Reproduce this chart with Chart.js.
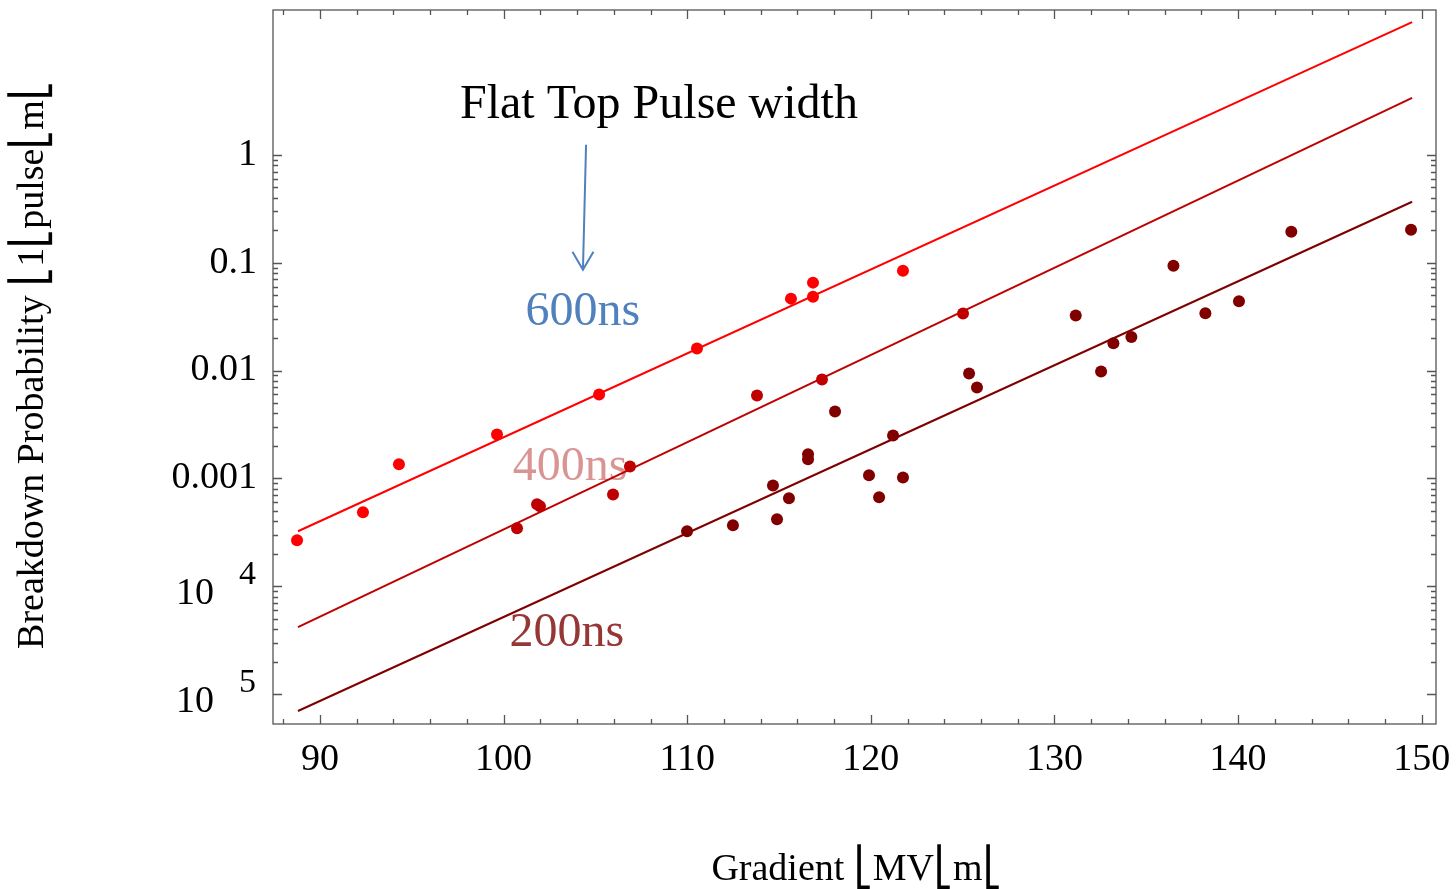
<!DOCTYPE html>
<html>
<head>
<meta charset="utf-8">
<script src="https://cdn.jsdelivr.net/npm/chart.js@4.4.1/dist/chart.umd.min.js"></script>
<style>
html, body { margin: 0; padding: 0; background: #fff; }
#wrap { width: 1456px; height: 889px; }
</style>
</head>
<body>
<div id="wrap"><canvas id="myChart"></canvas></div>
<script>
// measured points, gradient (MV/m) vs breakdown probability
const x600 = [88.75, 92.34, 94.30, 99.64, 105.20, 110.53, 115.65, 116.85, 116.85, 121.75];
const y600 = [2.67e-4, 4.84e-4, 1.35e-3, 2.55e-3, 6.0e-3, 0.016, 0.0464, 0.0653, 0.0484, 0.0843];

const x400 = [100.73, 101.82, 101.98, 105.96, 106.88, 113.80, 117.34, 125.02];
const y400 = [3.44e-4, 5.74e-4, 5.5e-4, 7.1e-4, 1.29e-3, 5.87e-3, 8.25e-3, 0.0337];

const x200 = [109.99, 112.49, 114.67, 114.89, 115.54, 116.58, 116.58, 118.05, 119.90, 120.45,
              121.21, 121.75, 125.35, 125.78, 131.16, 132.54, 133.21, 134.19, 136.48, 138.22,
              140.05, 142.90, 149.42];
const y200 = [3.23e-4, 3.67e-4, 8.6e-4, 4.17e-4, 6.53e-4, 1.67e-3, 1.5e-3, 4.17e-3, 1.07e-3, 6.67e-4,
              2.5e-3, 1.02e-3, 9.38e-3, 6.96e-3, 0.0323, 9.8e-3, 0.0179, 0.0204, 0.0938, 0.034,
              0.0438, 0.1937, 0.202];

// fitted lines, end points
const fitX = [88.8, 149.48];
const fit600 = [3.23e-4, 17.0];
const fit400 = [4.17e-5, 3.37];
const fit200 = [6.96e-6, 0.367];

const xTicks = [90, 100, 110, 120, 130, 140, 150];
const yTicks = [1, 0.1, 0.01, 0.001, 1e-4, 1e-5];
const yTickText = ['1', '0.1', '0.01', '0.001', '10', '10'];
const yTickSup = ['', '', '', '', '4', '5'];

const xTitle = 'Gradient \u23A3MV\u23A3m\u23A3';
const yTitle = 'Breakdown Probability \u23A31\u23A3pulse\u23A3m\u23A3';

const c600 = '#ff0000';
const c400 = '#bf0000';
const c200 = '#800000';

function pts(xs, ys) {
	return xs.map((v, i) => ({x: v, y: ys[i]}));
}

const serif = "'Liberation Serif', 'Times New Roman', serif";

const frame = {
	id: 'frame',
	beforeDatasetsDraw(chart) {
		const {ctx, chartArea: a, scales: {x, y}} = chart;
		const P = (xv, lg) => [x.getPixelForValue(xv), y.getPixelForValue(Math.pow(10, lg))];
		ctx.save();

		// frame + inward ticks
		ctx.strokeStyle = '#555';
		ctx.lineWidth = 1.3;
		ctx.strokeRect(a.left, a.top, a.right - a.left, a.bottom - a.top);
		ctx.beginPath();
		for (let v = 88; v <= 150; v += 2) {
			const px = Math.round(x.getPixelForValue(v)) + 0.5;
			const len = v % 10 === 0 ? 9 : 5;
			ctx.moveTo(px, a.bottom); ctx.lineTo(px, a.bottom - len);
			ctx.moveTo(px, a.top); ctx.lineTo(px, a.top + len);
		}
		for (let d = -5; d <= 0; d++) {
			const top = d === 0 ? 1 : 9;
			for (let m = 1; m <= top; m++) {
				const py = Math.round(y.getPixelForValue(m * Math.pow(10, d))) + 0.5;
				const len = m === 1 ? 9 : 5;
				ctx.moveTo(a.left, py); ctx.lineTo(a.left + len, py);
				ctx.moveTo(a.right, py); ctx.lineTo(a.right - len, py);
			}
		}
		ctx.stroke();

		// tick labels
		ctx.fillStyle = '#000';
		ctx.font = '38px ' + serif;
		ctx.textAlign = 'center';
		ctx.textBaseline = 'middle';
		xTicks.forEach(v => ctx.fillText(String(v), x.getPixelForValue(v), a.bottom + 36));

		yTicks.forEach((v, i) => {
			const py = y.getPixelForValue(v);
			if (yTickSup[i]) {
				ctx.font = '38px ' + serif;
				ctx.textAlign = 'right';
				ctx.fillText(yTickText[i], a.left - 59, py + 8);
				ctx.font = '34px ' + serif;
				ctx.textAlign = 'left';
				ctx.fillText(yTickSup[i], a.left - 34, py - 11);
			} else {
				ctx.font = '38px ' + serif;
				ctx.textAlign = 'right';
				ctx.fillText(yTickText[i], a.left - 16, py);
			}
		});

		// axis titles
		ctx.font = '38px ' + serif;
		ctx.textAlign = 'center';
		ctx.fillText(xTitle, (a.left + a.right) / 2 + 2, a.bottom + 146);
		ctx.save();
		ctx.translate(33, (a.top + a.bottom) / 2 - 2);
		ctx.rotate(-Math.PI / 2);
		ctx.fillText(yTitle, 0, 0);
		ctx.restore();

		// annotations
		ctx.font = '48px ' + serif;
		let p = P(108.46, 0.463);
		ctx.fillStyle = '#000';
		ctx.fillText('Flat Top Pulse width', p[0], p[1]);

		p = P(104.32, -1.463);
		ctx.fillStyle = '#4f81bd';
		ctx.fillText('600ns', p[0], p[1]);
		p = P(103.62, -2.898);
		ctx.fillStyle = '#d99594';
		ctx.fillText('400ns', p[0], p[1]);
		p = P(103.45, -4.435);
		ctx.fillStyle = '#953735';
		ctx.fillText('200ns', p[0], p[1]);

		// arrow
		const s = P(104.49, 0.0926);
		const e = P(104.32, -1.065);
		ctx.strokeStyle = '#4f81bd';
		ctx.lineWidth = 2;
		ctx.beginPath();
		ctx.moveTo(s[0], s[1]); ctx.lineTo(e[0], e[1]);
		ctx.moveTo(e[0] - 10.5, e[1] - 18); ctx.lineTo(e[0], e[1]); ctx.lineTo(e[0] + 10.5, e[1] - 18);
		ctx.stroke();

		ctx.restore();
	}
};

const lineSet = (ys, col) => ({
	type: 'line',
	data: pts(fitX, ys),
	borderColor: col,
	borderWidth: 2,
	pointRadius: 0,
	fill: false,
	order: 2
});
const dotSet = (xs, ys, col) => ({
	type: 'scatter',
	data: pts(xs, ys),
	backgroundColor: col,
	borderWidth: 0,
	pointRadius: 6,
	order: 1
});

const ctx = document.getElementById('myChart').getContext('2d');
const myChart = new Chart(ctx, {
	type: 'scatter',
	data: {
		datasets: [
			lineSet(fit600, c600),
			lineSet(fit400, c400),
			lineSet(fit200, c200),
			dotSet(x600, y600, c600),
			dotSet(x400, y400, c400),
			dotSet(x200, y200, c200)
		]
	},
	options: {
		responsive: true,
		maintainAspectRatio: false,
		animation: false,
		layout: { padding: { left: 273, top: 10, right: 20, bottom: 165 } },
		plugins: { legend: { display: false }, tooltip: { enabled: false } },
		scales: {
			x: { type: 'linear', display: false, min: 87.44, max: 150.78 },
			y: { type: 'logarithmic', display: false, min: Math.pow(10, -5.278), max: Math.pow(10, 1.343) }
		}
	},
	plugins: [frame]
});
</script>
</body>
</html>
